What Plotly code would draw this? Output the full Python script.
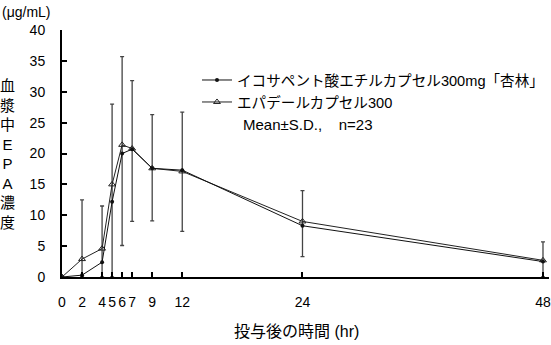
import plotly.graph_objects as go

# Data
hours = [0, 2, 4, 5, 6, 7, 9, 12, 24, 48]
kyorin = [0, 0.3, 2.4, 12.2, 20.0, 20.7, 17.6, 17.3, 8.3, 2.5]
epadel = [0, 2.9, 4.6, 15.0, 21.4, 20.8, 17.6, 17.1, 9.0, 2.7]
sd_plus = [None, 9.6, 6.9, 13.0, 14.3, 11.0, 8.7, 9.6, 5.0, 3.0]
sd_minus = [None, 2.9, 4.6, 15.0, 16.3, 11.8, 8.5, 9.7, 5.7, 2.7]
xtick_vals = [0, 2, 4, 5, 6, 7, 9, 12, 24, 48]
ytick_vals = [0, 5, 10, 15, 20, 25, 30, 35, 40]
name_a = "イコサペント酸エチルカプセル300mg「杏林」"
name_b = "エパデールカプセル300"

FONT = "Liberation Sans, Arial, Noto Sans CJK JP"
W, H = 551, 345
ML, MR, MT, MB = 62, 2, 30, 68

fig = go.Figure()
fig.add_trace(go.Scatter(
    x=hours, y=epadel, name=name_b, mode="lines+markers",
    line=dict(color="#222", width=1),
    marker=dict(symbol="triangle-up-open", size=6, color="#222", line=dict(width=1)),
    error_y=dict(type="data", array=sd_plus, arrayminus=sd_minus, symmetric=False,
                 color="#444", thickness=1.3, width=2),
    legendgroup="b", legendrank=2, cliponaxis=True,
))
fig.add_trace(go.Scatter(
    x=hours, y=kyorin, name=name_a, mode="lines+markers",
    line=dict(color="#111", width=1),
    marker=dict(symbol="circle", size=4, color="#111"),
    legendgroup="a", legendrank=1, cliponaxis=True,
))

pw = W - ML - MR
ph = H - MT - MB

def px_x(p):
    return (p - ML) / pw

def px_y(p):
    return (H - MB - p) / ph

fig.update_layout(
    width=W, height=H,
    margin=dict(l=ML, r=MR, t=MT, b=MB, autoexpand=False),
    paper_bgcolor="white", plot_bgcolor="white",
    font=dict(family=FONT, size=14, color="black"),
    showlegend=True,
    legend=dict(x=px_x(197), y=px_y(64), xanchor="left", yanchor="top",
                font=dict(size=14.6, family=FONT), bgcolor="rgba(0,0,0,0)",
                borderwidth=0, tracegroupgap=0, itemwidth=30),
    xaxis=dict(range=[0, 48.6], tickmode="array", tickvals=xtick_vals,
               ticktext=[str(v) for v in xtick_vals], ticks="inside", ticklen=5,
               tickwidth=2, tickcolor="black", showline=True, linewidth=2,
               linecolor="black", showgrid=False, zeroline=False, tickangle=0,
               ticklabeloverflow="allow", automargin=False,
               ticklabelstandoff=11, tickfont=dict(size=14, family=FONT)),
    yaxis=dict(range=[0, 40], tickmode="array", tickvals=ytick_vals,
               ticks="inside", ticklen=5, tickwidth=2, tickcolor="black",
               showline=True, linewidth=2, linecolor="black", showgrid=False,
               automargin=False,
               zeroline=False, ticklabelstandoff=12, tickfont=dict(size=14, family=FONT)),
)

sp = "\u00a0"
annos = [
    dict(text="(μg/mL)", x=0, y=12, xanchor="left"),
    dict(text="血<br>漿<br>中<br>E<br>P<br>A<br>濃<br>度", x=7, y=154, xanchor="center", size=15),
    dict(text="投与後の時間 (hr)", x=296, y=331, xanchor="center", size=16),
    dict(text="Mean±S.D.," + sp * 4 + "n=23", x=241, y=124, xanchor="left", size=15),
]
for a in annos:
    fig.add_annotation(
        text=a["text"], xref="paper", yref="paper",
        x=px_x(a["x"]), y=px_y(a["y"]), xanchor=a["xanchor"], yanchor="middle",
        showarrow=False, font=dict(size=a.get("size", 14), family=FONT, color="black"),
    )

fig.write_html("out.html")
